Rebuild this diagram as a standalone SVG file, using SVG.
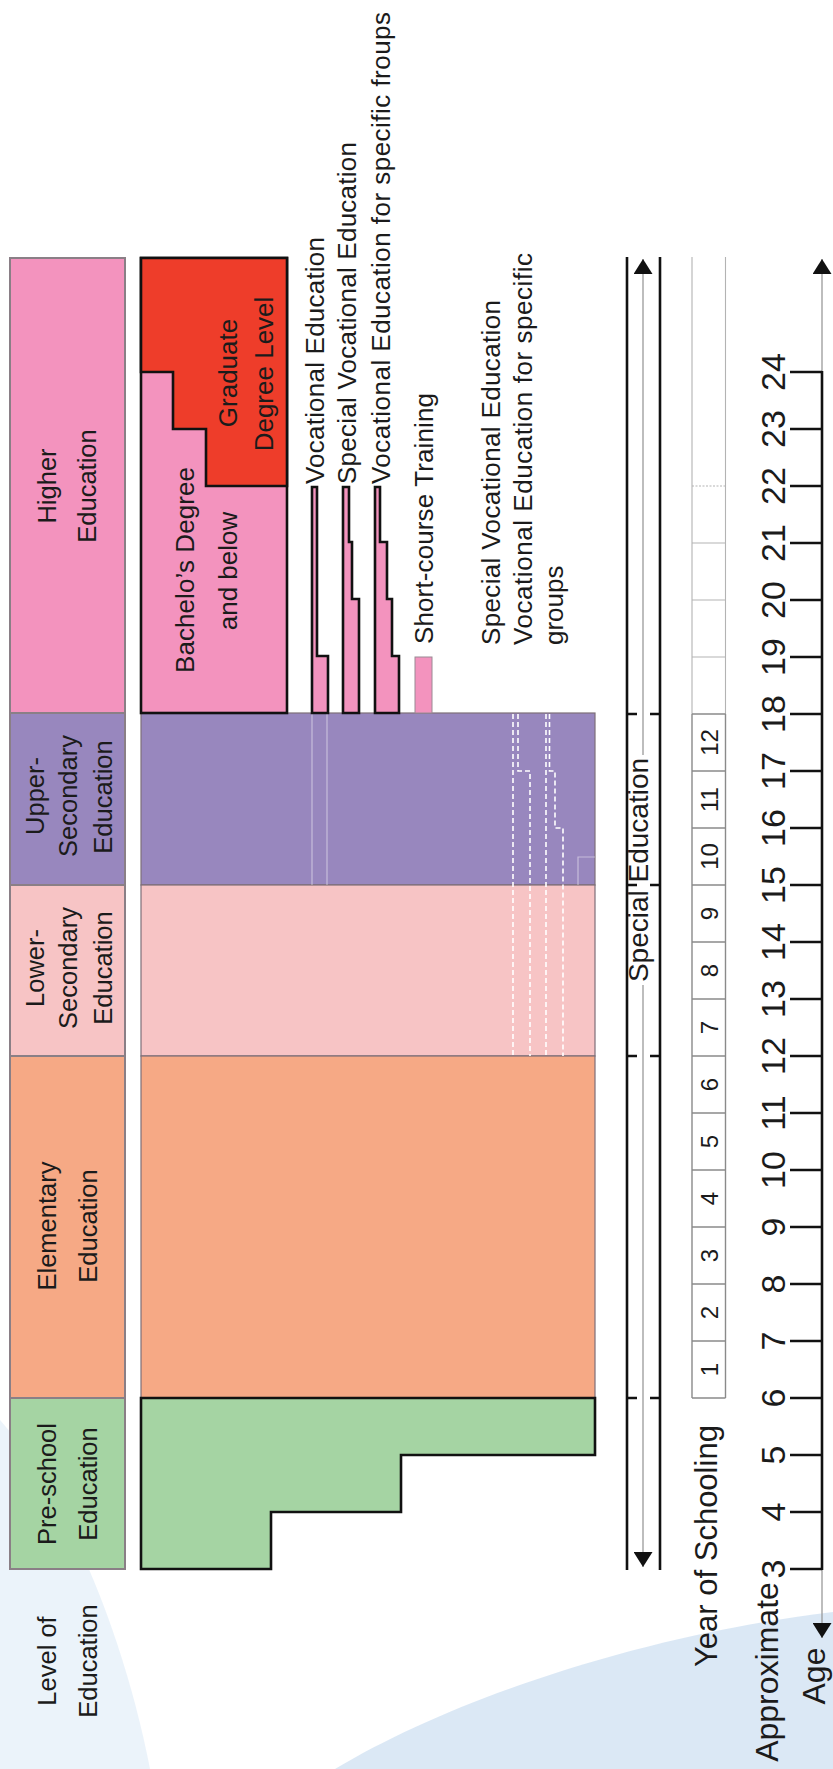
<svg xmlns="http://www.w3.org/2000/svg" width="833" height="1769" viewBox="0 0 833 1769">
<style>
.t{font-family:"Liberation Sans",Arial,Helvetica,sans-serif;fill:#1b1b1b}
.h{font-size:25.5px}
.b{font-size:26px}
.n{font-size:34px}
.y{font-size:24px}
.blk{stroke:#111;stroke-width:2.6;stroke-linejoin:miter}
.soft{stroke:#7d6f78;stroke-width:1.2}
.hdr{stroke:#8a7f86;stroke-width:2}
.dash{fill:none;stroke:#ffffff;stroke-width:1.6;stroke-dasharray:5 3}
.ghost{fill:none;stroke:#ffffff;stroke-opacity:0.45;stroke-width:1.2}
.box{stroke:#8a8a8a;stroke-width:1.4;fill:none}
.boxl{stroke:#b3b3b3;stroke-width:1.1;fill:none}
.tick{stroke:#111;stroke-width:2.6}
</style>
<defs>
<marker id="ah" markerUnits="userSpaceOnUse" markerWidth="15" markerHeight="19" viewBox="0 0 15 19" refX="15" refY="9.5" orient="auto-start-reverse">
<path d="M0,0 L15,9.5 L0,19 Z" fill="#111"/>
</marker>
</defs>

<g id="background">
<path d="M0,1420 C70,1500 125,1640 150,1769 L0,1769 Z" fill="#e6f0f9" opacity="0.8"/>
<path d="M833,1612 C640,1635 450,1700 335,1769 L833,1769 Z" fill="#d7e6f4" opacity="0.9"/>
</g>

<g id="header-higher">
<rect x="10" y="258" width="115" height="455" fill="#f393be" class="hdr"/>
<text class="t h" text-anchor="middle" transform="translate(56,486) rotate(-90)">Higher</text>
<text class="t h" text-anchor="middle" transform="translate(96,486) rotate(-90)">Education</text>
</g>
<g id="header-upper">
<rect x="10" y="713" width="115" height="172" fill="#9887be" class="hdr"/>
<text class="t h" text-anchor="middle" transform="translate(44,796) rotate(-90)">Upper-</text>
<text class="t h" text-anchor="middle" transform="translate(77,796) rotate(-90)">Secondary</text>
<text class="t h" text-anchor="middle" transform="translate(112,797) rotate(-90)">Education</text>
</g>
<g id="header-lower">
<rect x="10" y="885" width="115" height="171" fill="#f7c4c5" class="hdr"/>
<text class="t h" text-anchor="middle" transform="translate(44,968) rotate(-90)">Lower-</text>
<text class="t h" text-anchor="middle" transform="translate(77,968) rotate(-90)">Secondary</text>
<text class="t h" text-anchor="middle" transform="translate(112,968) rotate(-90)">Education</text>
</g>
<g id="header-elementary">
<rect x="10" y="1056" width="115" height="342" fill="#f6a985" class="hdr"/>
<text class="t h" text-anchor="middle" transform="translate(56,1226) rotate(-90)">Elementary</text>
<text class="t h" text-anchor="middle" transform="translate(97,1226) rotate(-90)">Education</text>
</g>
<g id="header-preschool">
<rect x="10" y="1398" width="115" height="171" fill="#a5d4a3" class="hdr"/>
<text class="t h" text-anchor="middle" transform="translate(56,1484) rotate(-90)">Pre-school</text>
<text class="t h" text-anchor="middle" transform="translate(97,1484) rotate(-90)">Education</text>
</g>
<g id="header-level">
<text class="t h" text-anchor="middle" transform="translate(56,1661) rotate(-90)">Level of</text>
<text class="t h" text-anchor="middle" transform="translate(97,1661) rotate(-90)">Education</text>
</g>

<g id="block-upper">
<rect x="141" y="713" width="454" height="172" fill="#9887be" class="soft"/>
</g>
<g id="block-lower">
<rect x="141" y="885" width="454" height="171" fill="#f7c4c5" class="soft"/>
</g>
<g id="block-elementary">
<rect x="141" y="1056" width="454" height="342" fill="#f6a985" class="soft"/>
</g>
<g id="block-preschool">
<path d="M141,1398 H595 V1455 H401 V1512 H271 V1569 H141 Z" fill="#a5d4a3" class="blk"/>
</g>

<g id="overlay-lines">
<line x1="312" y1="713" x2="312" y2="885" class="ghost"/>
<line x1="327" y1="713" x2="327" y2="885" class="ghost"/>
<path d="M513,714 V1056" class="dash"/>
<path d="M518,714 V771 H530 V1056" class="dash"/>
<path d="M546,714 V1056" class="dash"/>
<path d="M549.5,714 V771 H555 V828 H563 V1056" class="dash"/>
<path d="M578,885 V857 H595" class="ghost"/>
</g>

<g id="block-bachelor">
<rect x="141" y="258" width="146" height="455" fill="#f393be" class="blk"/>
<text class="t b" text-anchor="middle" transform="translate(194,570) rotate(-90)" textLength="206" lengthAdjust="spacing">Bachelo’s Degree</text>
<text class="t b" text-anchor="middle" transform="translate(237,571) rotate(-90)">and below</text>
</g>
<g id="block-graduate">
<path d="M141,258 H287 V486 H206 V429 H173 V372 H141 Z" fill="#ee3d2a" class="blk"/>
<text class="t b" text-anchor="middle" transform="translate(237,373) rotate(-90)">Graduate</text>
<text class="t b" text-anchor="middle" transform="translate(273,374) rotate(-90)">Degree Level</text>
</g>

<g id="bar-vocational">
<path d="M312,487 H317 V656 H328 V713 H312 Z" fill="#f393be" class="blk"/>
<text class="t b" transform="translate(324,484) rotate(-90)" textLength="247" lengthAdjust="spacing">Vocational Education</text>
</g>
<g id="bar-special-vocational">
<path d="M343,487 H349 V542 H352 V599 H359 V713 H343 Z" fill="#f393be" class="blk"/>
<text class="t b" transform="translate(356,484) rotate(-90)" textLength="342" lengthAdjust="spacing">Special Vocational Education</text>
</g>
<g id="bar-specific-groups">
<path d="M375,487 H380 V542 H387 V599 H392 V656 H399 V713 H375 Z" fill="#f393be" class="blk"/>
<text class="t b" transform="translate(390,484) rotate(-90)" textLength="472" lengthAdjust="spacing">Vocational Education for specific froups</text>
</g>
<g id="bar-short-course">
<rect x="415" y="657" width="17" height="56" fill="#f393be" stroke="#9a8a94" stroke-width="1"/>
<text class="t b" transform="translate(433,644) rotate(-90)" textLength="251" lengthAdjust="spacing">Short-course Training</text>
</g>
<g id="note-special">
<text class="t b" transform="translate(500,645) rotate(-90)" textLength="345" lengthAdjust="spacing">Special Vocational Education</text>
<text class="t b" transform="translate(532,645) rotate(-90)" textLength="392" lengthAdjust="spacing">Vocational Education for specific</text>
<text class="t b" transform="translate(563,645) rotate(-90)">groups</text>
</g>

<g id="connectors">
<g id="special-education">
<line x1="627" y1="257" x2="627" y2="1570" class="tick"/>
<line x1="660" y1="257" x2="660" y2="1570" class="tick"/>
<path d="M627,714 H637 M650,714 H660 M627,885 H637 M650,885 H660 M627,1056 H637 M650,1056 H660 M627,1398 H637 M650,1398 H660" class="tick" stroke-width="2"/>
<line x1="643" y1="259" x2="643" y2="755" stroke="#9a9a9a" stroke-width="1.3" marker-start="url(#ah)"/>
<line x1="643" y1="985" x2="643" y2="1567" stroke="#9a9a9a" stroke-width="1.3" marker-end="url(#ah)"/>
<text class="t" font-size="28" text-anchor="middle" transform="translate(648,870) rotate(-90)">Special Education</text>
</g>
<g id="age-axis">
<line x1="822" y1="259" x2="822" y2="1638" stroke="#9a9a9a" stroke-width="1.3" marker-start="url(#ah)" marker-end="url(#ah)"/>
<line x1="822" y1="371" x2="822" y2="1570" class="tick"/>
<path d="M790,372 H822 M790,429 H822 M790,486 H822 M790,543 H822 M790,600 H822 M790,657 H822 M790,714 H822 M790,771 H822 M790,828 H822 M790,885 H822 M790,942 H822 M790,999 H822 M790,1056 H822 M790,1113 H822 M790,1170 H822 M790,1227 H822 M790,1284 H822 M790,1341 H822 M790,1398 H822 M790,1455 H822 M790,1512 H822 M790,1569 H822" class="tick"/>
</g>
</g>

<g id="year-of-schooling">
<path d="M692,257 V714 M725.5,257 V714" class="boxl"/>
<path d="M692,543 H725.5 M692,600 H725.5 M692,657 H725.5" class="boxl"/>
<path d="M692,486 H725.5" class="boxl" stroke-dasharray="2 1.5"/>
<path d="M692,714 V1398 M725.5,714 V1398 M692,714 H725.5 M692,771 H725.5 M692,828 H725.5 M692,885 H725.5 M692,942 H725.5 M692,999 H725.5 M692,1056 H725.5 M692,1113 H725.5 M692,1170 H725.5 M692,1227 H725.5 M692,1284 H725.5 M692,1341 H725.5 M692,1398 H725.5" class="box"/>
<g class="t y" text-anchor="middle">
<text transform="translate(718,1369.5) rotate(-90)">1</text>
<text transform="translate(718,1312.5) rotate(-90)">2</text>
<text transform="translate(718,1255.5) rotate(-90)">3</text>
<text transform="translate(718,1198.5) rotate(-90)">4</text>
<text transform="translate(718,1141.5) rotate(-90)">5</text>
<text transform="translate(718,1084.5) rotate(-90)">6</text>
<text transform="translate(718,1027.5) rotate(-90)">7</text>
<text transform="translate(718,970.5) rotate(-90)">8</text>
<text transform="translate(718,913.5) rotate(-90)">9</text>
<text transform="translate(718,856.5) rotate(-90)">10</text>
<text transform="translate(718,799.5) rotate(-90)">11</text>
<text transform="translate(718,742.5) rotate(-90)">12</text>
</g>
<text class="t" font-size="31" transform="translate(717,1667) rotate(-90)">Year of Schooling</text>
</g>

<g id="age-labels" class="t n" text-anchor="middle">
<text transform="translate(785,1569) rotate(-90)">3</text>
<text transform="translate(785,1512) rotate(-90)">4</text>
<text transform="translate(785,1455) rotate(-90)">5</text>
<text transform="translate(785,1398) rotate(-90)">6</text>
<text transform="translate(785,1341) rotate(-90)">7</text>
<text transform="translate(785,1284) rotate(-90)">8</text>
<text transform="translate(785,1227) rotate(-90)">9</text>
<text transform="translate(785,1170) rotate(-90)">10</text>
<text transform="translate(785,1113) rotate(-90)">11</text>
<text transform="translate(785,1056) rotate(-90)">12</text>
<text transform="translate(785,999) rotate(-90)">13</text>
<text transform="translate(785,942) rotate(-90)">14</text>
<text transform="translate(785,885) rotate(-90)">15</text>
<text transform="translate(785,828) rotate(-90)">16</text>
<text transform="translate(785,771) rotate(-90)">17</text>
<text transform="translate(785,714) rotate(-90)">18</text>
<text transform="translate(785,657) rotate(-90)">19</text>
<text transform="translate(785,600) rotate(-90)">20</text>
<text transform="translate(785,543) rotate(-90)">21</text>
<text transform="translate(785,486) rotate(-90)">22</text>
<text transform="translate(785,429) rotate(-90)">23</text>
<text transform="translate(785,372) rotate(-90)">24</text>
</g>
<g id="age-title">
<text class="t" font-size="32" text-anchor="middle" transform="translate(778,1672) rotate(-90)">Approximate</text>
<text class="t" font-size="32" text-anchor="middle" transform="translate(825,1676) rotate(-90)">Age</text>
</g>
</svg>
